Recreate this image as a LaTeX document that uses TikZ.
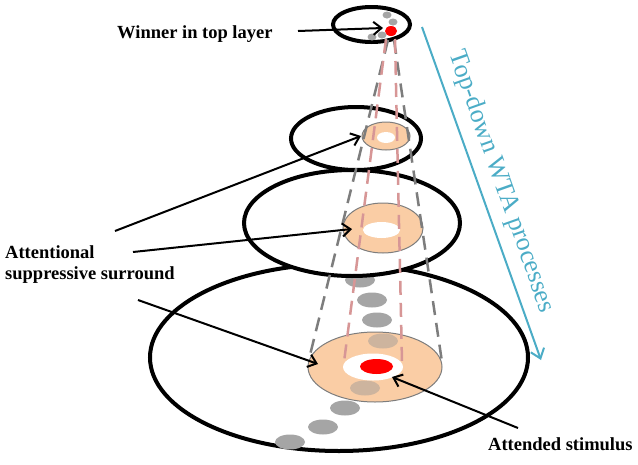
\documentclass[tikz,border=0pt]{standalone}
\usepackage{fontspec}
\setmainfont{Liberation Serif}
\usetikzlibrary{arrows.meta}
\definecolor{ringfill}{RGB}{250,205,165}
\definecolor{ringline}{RGB}{125,125,125}
\definecolor{dotgray}{RGB}{165,165,165}
\definecolor{dotin}{RGB}{205,180,158}
\definecolor{conegray}{RGB}{125,125,125}
\definecolor{conepink}{RGB}{215,150,150}
\definecolor{wtablue}{RGB}{75,172,198}
\definecolor{dotred}{RGB}{255,0,0}
\tikzset{
  layer/.style={fill=white, draw=black, line width=4pt},
  ring/.style={fill=ringfill, draw=ringline, line width=1pt},
  hole/.style={fill=white},
  graydot/.style={fill=dotgray},
  indot/.style={fill=dotin},
  reddot/.style={fill=dotred},
  outercone/.style={draw=conegray, line width=2.5pt, dash pattern=on 14pt off 8pt},
  innercone/.style={draw=conepink, line width=2.5pt, dash pattern=on 14pt off 8pt},
  pointer/.style={draw=black, line width=2pt, -{Straight Barb[length=8pt,width=13pt]}},
  flow/.style={draw=wtablue, line width=2pt, -{Straight Barb[length=9pt,width=14pt]}},
  lbl/.style={font=\bfseries\fontsize{18.5}{21}\selectfont, inner sep=0pt}
}
\begin{document}
\begin{tikzpicture}[x=1pt,y=-1pt]
\useasboundingbox (0,0) rectangle (638,464);
% bottom layer
\path[layer] (339,357.5) ellipse [x radius=189, y radius=93.5];
\foreach \p in {(360,280),(372,300),(377,320),(345,408),(323,427),(290,442)}
  \path[graydot] \p ellipse [x radius=15, y radius=7.5];
\path[ring] (375,367) ellipse [x radius=67, y radius=35];
\foreach \p in {(383,341),(365,388)}
  \path[indot] \p ellipse [x radius=15, y radius=7.5];
\path[hole] (373,367) ellipse [x radius=30, y radius=13.5];
\path[reddot] (376.5,366.5) ellipse [x radius=16.5, y radius=7.5];
\coordinate (ring4L) at (318,364);
\coordinate (red4) at (392,377);
% third layer
\path[layer] (352,223) ellipse [x radius=108, y radius=53];
\path[ring] (383,228) ellipse [x radius=40, y radius=25];
\path[hole] (381.5,230) ellipse [x radius=18.5, y radius=8];
\coordinate (ring3L) at (352,229);
% second layer
\path[layer] (356,138.5) ellipse [x radius=65, y radius=31.5];
\path[ring] (386,136) ellipse [x radius=24, y radius=14];
\path[hole] (386,137.5) ellipse [x radius=9, y radius=5.5];
\coordinate (ring2L) at (361,136);
% top layer
\path[layer] (371.5,24.5) ellipse [x radius=38.5, y radius=17.5];
\foreach \p in {(387,15),(393,22),(372,37),(382,35)}
  \path[graydot] \p ellipse [x radius=4.5, y radius=3.5];
\path[reddot] (391,31) ellipse [x radius=6, y radius=5];
\coordinate (red1) at (383,28);
% cones
\coordinate (gL1) at (388,40); \coordinate (gL2) at (310,355);
\coordinate (gR1) at (394,40); \coordinate (gR2) at (442,362);
\coordinate (pL1) at (386,39); \coordinate (pL2) at (344,362);
\coordinate (pR1) at (395,39); \coordinate (pR2) at (402,362);
\draw[outercone] (gL1) -- (gL2);
\draw[outercone] (gR1) -- (gR2);
\draw[innercone] (pL1) -- (pL2);
\draw[innercone] (pR1) -- (pR2);
% labels
\node[lbl, anchor=base west] (win) at (117,38) {Winner in top layer};
\node[lbl, anchor=base west] (att1) at (5,258) {Attentional};
\node[lbl, anchor=base west] (att2) at (5,279) {suppressive surround};
\node[lbl, anchor=base west] (stim) at (488,450) {Attended stimulus};
\coordinate (winS) at (298,31);
\coordinate (aS) at (115,231);
\coordinate (bS) at (133,252);
\coordinate (cS) at (138,300);
\coordinate (sS) at (518,428);
\draw[pointer] (winS) -- (red1);
\draw[pointer] (aS) -- (ring2L);
\draw[pointer] (bS) -- (ring3L);
\draw[pointer] (cS) -- (ring4L);
\draw[pointer] (sS) -- (red4);
% top-down arrow
\coordinate (fS) at (422,27);
\coordinate (fE) at (541,360);
\draw[flow] (fS) -- (fE);
\node[rotate=-70.5, font=\fontsize{26}{29}\selectfont, text=wtablue, inner sep=0pt] (wta) at (501,182) {Top-down WTA processes};
\end{tikzpicture}
\end{document}
